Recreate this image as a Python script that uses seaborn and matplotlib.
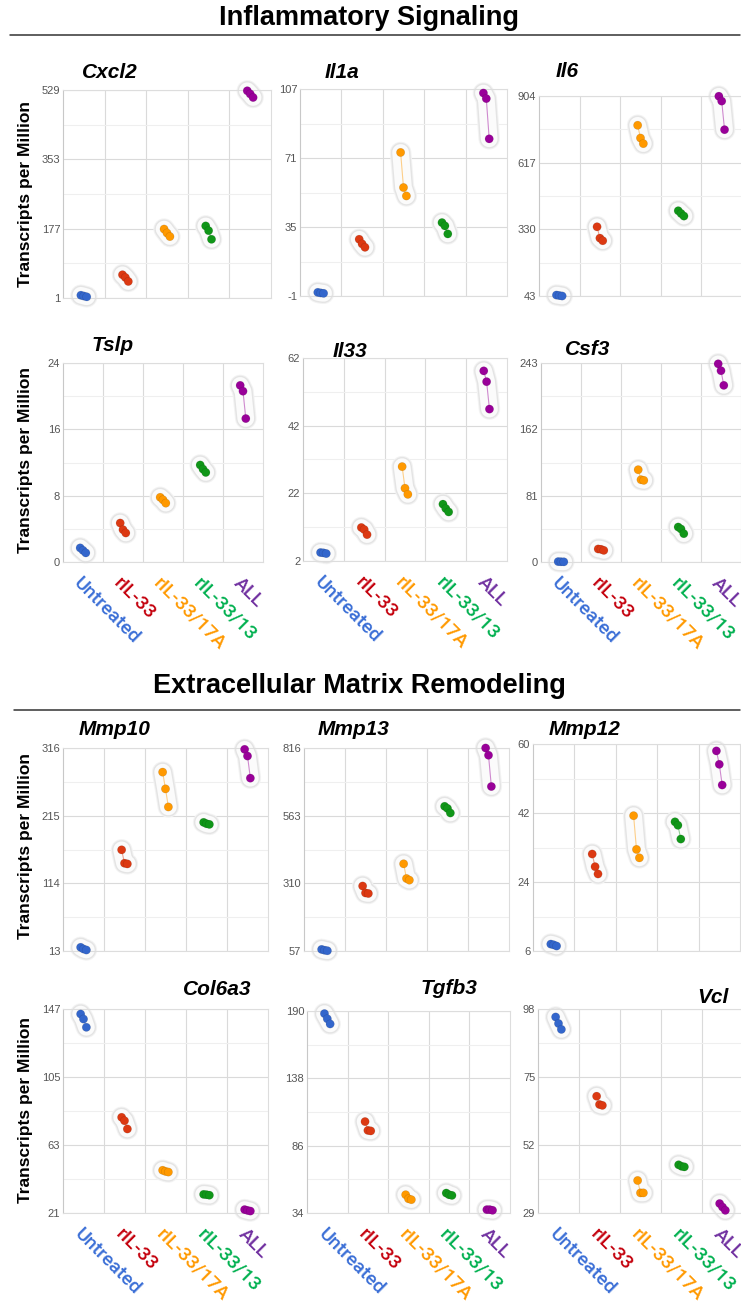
import numpy as np
import pandas as pd
import matplotlib
matplotlib.use("Agg")
import matplotlib.pyplot as plt
import seaborn as sns

sns.set_theme(style="white")
plt.rcParams["font.family"] = ["Liberation Sans", "DejaVu Sans"]

W, H, DPI = 741, 1308, 100

# ---- data: TPM for three replicates per treatment group ----
groups = ["Untreated", "rIL-33", "rIL-33/17A", "rIL-33/13", "ALL"]
dot_colors = ["#3366cc", "#dc3912", "#ff9900", "#109618", "#990099"]
label_colors = ["#3a6ed6", "#c4000c", "#ff9900", "#00b04f", "#7030a0"]

cxcl2 = [[6, 8, 4], [60, 53, 43], [176, 166, 157], [184, 172, 150], [527, 519, 510]]
il1a = [[0.9, 0.6, 0.4], [28.6, 26.2, 24.4], [73.9, 55.6, 51.2], [37.3, 35.6, 31.4], [104.9, 102.0, 81.0]]
il6 = [[47, 45, 43], [341, 292, 281], [778, 723, 699], [410, 398, 387], [903, 882, 759]]
tslp = [[1.7, 1.4, 1.1], [4.7, 3.9, 3.5], [7.8, 7.5, 7.1], [11.7, 11.2, 10.8], [21.3, 20.6, 17.3]]
il33 = [[4.5, 4.4, 4.2], [11.9, 11.3, 9.8], [29.9, 23.5, 21.7], [18.8, 17.5, 16.5], [58.2, 55.0, 46.9]]
csf3 = [[0.5, 0.3, 0.2], [15.9, 15.5, 14.2], [112.7, 100.5, 99.7], [42.7, 40.3, 34.6], [242, 233.6, 215.7]]
mmp10 = [[18.5, 16, 14.5], [164, 144, 143], [280, 255, 228], [205, 203, 202], [314, 304, 271]]
mmp13 = [[63, 60, 58], [300, 274, 272], [383, 328, 322], [598, 590, 573], [816, 789, 672]]
mmp12 = [[7.8, 7.6, 7.3], [31.3, 28.0, 26.1], [41.3, 32.5, 30.3], [39.7, 38.8, 35.2], [58.2, 54.7, 49.3]]
col6a3 = [[143.9, 140.8, 135.7], [80.1, 78.0, 72.9], [47.4, 46.7, 46.3], [32.5, 32.3, 32.0], [23.1, 22.6, 22.2]]
tgfb3 = [[188, 184, 180], [104.6, 97.8, 97.4], [48.1, 45.0, 44.3], [49.4, 48.1, 47.6], [36.6, 36.6, 36.1]]
vcl = [[95.3, 93.1, 91.1], [68.5, 65.7, 65.4], [40.0, 35.8, 35.8], [45.3, 44.8, 44.6], [32.2, 31.0, 29.9]]

# y-axis tick labels (min, two thirds, max)
cxcl2_ticks = [1, 177, 353, 529]
il1a_ticks = [-1, 35, 71, 107]
il6_ticks = [43, 330, 617, 904]
tslp_ticks = [0, 8, 16, 24]
il33_ticks = [2, 22, 42, 62]
csf3_ticks = [0, 81, 162, 243]
mmp10_ticks = [13, 114, 215, 316]
mmp13_ticks = [57, 310, 563, 816]
mmp12_ticks = [6, 24, 42, 60]
col6a3_ticks = [21, 63, 105, 147]
tgfb3_ticks = [34, 86, 138, 190]
vcl_ticks = [29, 52, 75, 98]

section_titles = ["Inflammatory Signaling", "Extracellular Matrix Remodeling"]
ylabel = "Transcripts per Million"

# ---- layout (pixel boxes: left, top, right, bottom; title x, title baseline) ----
panels = [
    ("Cxcl2", cxcl2, cxcl2_ticks, (63, 90, 271, 298), (110, 78), False),
    ("Il1a", il1a, il1a_ticks, (300, 89, 507, 296), (342, 78), False),
    ("Il6", il6, il6_ticks, (539, 96, 742, 296), (567, 77), False),
    ("Tslp", tslp, tslp_ticks, (63, 363, 263, 562), (113, 351), True),
    ("Il33", il33, il33_ticks, (303, 358, 507, 561), (350, 357), True),
    ("Csf3", csf3, csf3_ticks, (541, 363, 741, 562), (588, 355), True),
    ("Mmp10", mmp10, mmp10_ticks, (63, 748, 268, 951), (115, 735), False),
    ("Mmp13", mmp13, mmp13_ticks, (304, 748, 509, 951), (354, 735), False),
    ("Mmp12", mmp12, mmp12_ticks, (533, 744, 740, 951), (585, 735), False),
    ("Col6a3", col6a3, col6a3_ticks, (63, 1009, 268, 1213), (217, 995), True),
    ("Tgfb3", tgfb3, tgfb3_ticks, (307, 1011, 510, 1213), (449, 994), True),
    ("Vcl", vcl, vcl_ticks, (538, 1009, 743, 1213), (713, 1003), True),
]
row_centers = [194, 460, 846, 1110]
offsets = [-0.07, 0.0, 0.07]


def fx(x):
    return x / W


def fy(y):
    return 1 - y / H


fig = plt.figure(figsize=(W / DPI, H / DPI), dpi=DPI)
fig.patch.set_facecolor("white")

palette = dict(zip(groups, dot_colors))

for name, values, ticks, (l, t, r, b), (tx, ty), show_x in panels:
    ax = fig.add_axes([fx(l), fy(b), fx(r - l), (b - t) / H])
    rows = []
    for gi, g in enumerate(groups):
        for k, v in enumerate(sorted(values[gi], reverse=True)):
            rows.append({"group": g, "pos": gi + offsets[k], "tpm": v})
    df = pd.DataFrame(rows)

    # rounded halo and thin connector behind each replicate cluster
    for gi, g in enumerate(groups):
        sub = df[df["group"] == g]
        for lw, c in [(15.5, "#f3f3f3"), (14.0, "#e4e4e4"), (12.0, "#fbfbfb")]:
            ax.plot(sub["pos"], sub["tpm"], lw=lw, color=c, solid_capstyle="round",
                    solid_joinstyle="round", clip_on=False, zorder=2)
        ax.plot(sub["pos"], sub["tpm"], lw=0.8, color=dot_colors[gi], alpha=0.45,
                clip_on=False, zorder=3)

    sns.scatterplot(data=df, x="pos", y="tpm", hue="group", palette=palette,
                    s=36, linewidth=0.4, edgecolor=(0, 0, 0, 0.15), legend=False,
                    ax=ax, zorder=4, clip_on=False)

    lo, hi = ticks[0], ticks[-1]
    ax.set_ylim(lo, hi)
    ax.set_xlim(-0.5, 4.5)
    ax.set_yticks(ticks)
    ax.set_yticklabels([str(v) for v in ticks], fontsize=8, color="#555555")
    ax.set_yticks([(a + c) / 2 for a, c in zip(ticks[:-1], ticks[1:])], minor=True)
    ax.set_xticks([0.5, 1.5, 2.5, 3.5], minor=True)
    ax.grid(True, which="major", axis="y", color="#dadada", lw=0.8)
    ax.grid(True, which="minor", axis="y", color="#efefef", lw=0.8)
    ax.grid(True, which="minor", axis="x", color="#dadada", lw=0.8)
    ax.set_axisbelow(True)
    ax.tick_params(axis="both", which="both", length=0, pad=2)
    ax.set_xlabel("")
    ax.set_ylabel("")
    for s in ax.spines.values():
        s.set_color("#dddddd")
        s.set_linewidth(0.8)
    ax.spines["left"].set_color("#c8c8c8")
    ax.set_facecolor("white")

    if show_x:
        ax.set_xticks(range(len(groups)))
        labels = ax.set_xticklabels(groups, rotation=-45, ha="left", va="top",
                                    rotation_mode="anchor", fontsize=14,
                                    family=["Roboto", "DejaVu Sans"], fontweight="medium")
        for lab, c in zip(labels, label_colors):
            lab.set_color(c)
        ax.tick_params(axis="x", pad=9)
    else:
        ax.set_xticks([])

    fig.text(fx(tx), fy(ty), name, ha="center", va="baseline", fontsize=15,
             fontweight="bold", fontstyle="italic", color="black")

# y-axis titles, one per row
for yc in row_centers:
    fig.text(fx(26), fy(yc), ylabel, rotation=90, ha="center", va="center",
             fontsize=12.5, fontweight="bold", color="black")

# section headers with rules
for title, (cx, cy, ly, lx0) in zip(section_titles, [(369, 18, 35, 10), (359, 686, 710, 14)]):
    fig.text(fx(cx), fy(cy), title, ha="center", va="center", fontsize=19.5,
             fontweight="bold", color="black")
    fig.add_artist(plt.Line2D([fx(lx0), fx(740)], [fy(ly), fy(ly)],
                              color="#333333", lw=1.1, transform=fig.transFigure))

fig.savefig("out.png", dpi=DPI, facecolor="white")
